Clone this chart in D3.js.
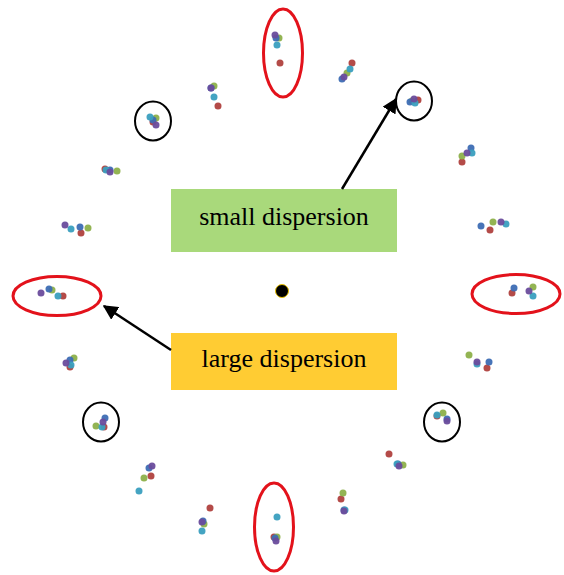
<!DOCTYPE html>
<html>
<head>
<meta charset="utf-8">
<script src="https://cdn.jsdelivr.net/npm/d3@7"></script>
<style>
  body { margin: 0; background: #fff; }
  svg { display: block; }
</style>
</head>
<body>
<svg id="chart" width="564" height="575"></svg>
<script>
// 20 directions, 5 series; values are offsets from the centre point
const series = ['red', 'green', 'blue', 'teal', 'purple'];
const colors = ['#b0413e', '#8db04a', '#3d6db4', '#3a9fbf', '#6a4c9c'];

const redX    = [-2, 70, 136, 180, 208, 230, 205, 155, 107, 59, -8, -72, -131, -178, -212, -219, -201, -177, -129, -64];
const redY    = [228, 228, 191, 129, 61, -2, -77, -125, -163, -208, -246, -217, -185, -136, -76, -5, 58, 122, 169, 185];
const greenX  = [-3, 65, 130, 180, 211, 251, 187, 161, 121, 61, -5, -78, -138, -186, -208, -230, -194, -165, -126, -68];
const greenY  = [253, 218, 190, 135, 69, 4, -64, -122, -174, -202, -246, -233, -187, -135, -67, 1, 63, 120, 173, 205];
const blueX   = [-6, 60, 128, 189, 199, 232, 207, 165, 116, 62, -7, -79, -133, -177, -212, -233, -202, -172, -129, -71];
const blueY   = [253, 212, 189, 143, 65, 3, -71, -128, -173, -219, -247, -230, -177, -127, -69, 2, 64, 121, 171, 203];
const tealX   = [-5, 68, 133, 190, 224, 251, 195, 155, 115, 63, -5, -80, -143, -180, -211, -224, -211, -176, -132, -68];
const tealY   = [246, 222, 188, 138, 67, -5, -73, -124, -173, -219, -226, -240, -200, -136, -74, -5, 62, 121, 174, 194];
const purpleX = [-7, 62, 132, 185, 219, 247, 195, 165, 117, 62, -6, -80, -130, -179, -216, -241, -217, -172, -126, -71];
const purpleY = [256, 214, 192, 138, 69, 0, -71, -130, -175, -220, -250, -231, -175, -131, -72, -2, 66, 119, 166, 203];

const xs = [redX, greenX, blueX, tealX, purpleX];
const ys = [redY, greenY, blueY, tealY, purpleY];

// annotation rings (centre in data units)
const smallRingX = [132, 160, -181, -129];
const smallRingY = [190, -131, -131, 170];
const largeRingX = [1, 234, -8, -225];
const largeRingY = [238, -3, -236, -5];
const largeRingVertical = [true, false, true, false];

const labels = ['small dispersion', 'large dispersion'];

const svg = d3.select('#chart');
const width = 564, height = 575;

const x = d3.scaleLinear().domain([-282, 282]).range([0, width]);
const y = d3.scaleLinear().domain([-284, 291]).range([height, 0]);

svg.append('defs').append('marker')
    .attr('id', 'arrow')
    .attr('viewBox', '0 0 10 10')
    .attr('refX', 9).attr('refY', 5)
    .attr('markerWidth', 6).attr('markerHeight', 6)
    .attr('markerUnits', 'strokeWidth')
    .attr('orient', 'auto')
  .append('path')
    .attr('d', 'M0,0 L10,5 L0,10 z')
    .attr('fill', '#000');

// points
const pts = [];
series.forEach((s, k) => {
  xs[k].forEach((v, i) => pts.push({k, x: v, y: ys[k][i]}));
});

svg.append('g')
  .selectAll('circle')
  .data(pts)
  .join('circle')
    .attr('cx', d => x(d.x))
    .attr('cy', d => y(d.y))
    .attr('r', 3.5)
    .attr('fill', d => colors[d.k])
    .attr('opacity', 0.95);

// centre
svg.append('circle')
    .attr('cx', x(0)).attr('cy', y(0))
    .attr('r', 6.5)
    .attr('fill', '#000')
    .attr('stroke', '#e8c000')
    .attr('stroke-width', 1);

// black circles round tight clusters
svg.append('g')
  .selectAll('ellipse')
  .data(smallRingX)
  .join('ellipse')
    .attr('cx', d => x(d))
    .attr('cy', (d, i) => y(smallRingY[i]))
    .attr('rx', 18).attr('ry', 19.5)
    .attr('fill', 'none')
    .attr('stroke', '#000')
    .attr('stroke-width', 2);

// red ellipses round loose clusters
svg.append('g')
  .selectAll('ellipse')
  .data(largeRingX)
  .join('ellipse')
    .attr('cx', d => x(d))
    .attr('cy', (d, i) => y(largeRingY[i]))
    .attr('rx', (d, i) => largeRingVertical[i] ? 19.5 : 44)
    .attr('ry', (d, i) => largeRingVertical[i] ? 44 : 19.5)
    .attr('fill', 'none')
    .attr('stroke', '#e3121b')
    .attr('stroke-width', 3);

// labels
const boxes = [
  {text: labels[0], y0: 189, y1: 252, ty: 216, fill: '#a9d97b'},
  {text: labels[1], y0: 333, y1: 390, ty: 358, fill: '#ffcc33'}
];

const lab = svg.append('g')
  .selectAll('g')
  .data(boxes)
  .join('g');

lab.append('rect')
    .attr('x', 171).attr('width', 226)
    .attr('y', d => d.y0)
    .attr('height', d => d.y1 - d.y0)
    .attr('fill', d => d.fill);

lab.append('text')
    .attr('x', 284)
    .attr('y', d => d.ty)
    .attr('dy', '0.35em')
    .attr('text-anchor', 'middle')
    .attr('font-family', '"Liberation Serif", "Times New Roman", serif')
    .attr('font-size', 26)
    .text(d => d.text);

// arrows
svg.append('line')
    .attr('x1', 342).attr('y1', 189)
    .attr('x2', 396).attr('y2', 99)
    .attr('stroke', '#000').attr('stroke-width', 2.5)
    .attr('marker-end', 'url(#arrow)');

svg.append('line')
    .attr('x1', 171).attr('y1', 350)
    .attr('x2', 104).attr('y2', 306)
    .attr('stroke', '#000').attr('stroke-width', 2.5)
    .attr('marker-end', 'url(#arrow)');
</script>
</body>
</html>
